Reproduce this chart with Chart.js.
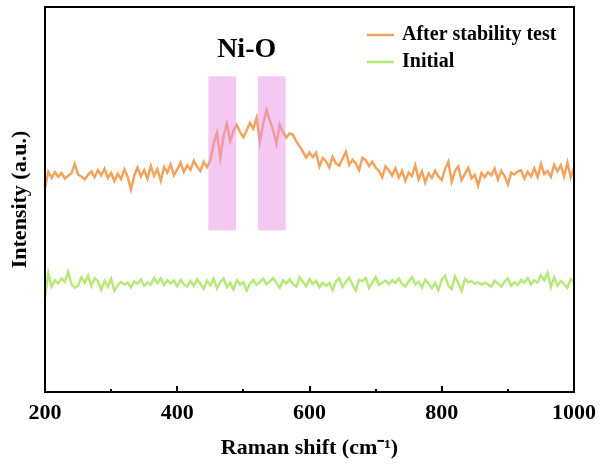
<!DOCTYPE html>
<html>
<head>
<meta charset="utf-8">
<script src="https://cdn.jsdelivr.net/npm/chart.js@4/dist/chart.umd.min.js"></script>
<style>
  html, body { margin: 0; padding: 0; background: #fff; }
  #wrap { width: 602px; height: 468px; }
</style>
</head>
<body>
<div id="wrap"><canvas id="ramanChart"></canvas></div>
<script>
// sampling grid of the spectra (cm-1), every 5 from 200 to 1000
const shiftStart = 200;
const shiftStep = 5;

const afterTest = [
  53.0, 57.2, 55.6, 57.1, 55.9, 56.9, 55.4, 56.2, 56.8, 59.2,
  56.5, 56.0, 55.2, 56.4, 57.3, 55.8, 57.6, 56.3, 58.0, 55.6,
  56.9, 54.8, 56.7, 55.3, 57.8, 55.9, 52.6, 56.2, 58.3, 56.0,
  57.6, 55.4, 58.7, 56.1, 57.9, 54.9, 58.4, 57.0, 59.1, 56.3,
  57.8, 59.6, 57.2, 58.9, 57.7, 60.1, 58.5, 57.4, 59.8, 58.4,
  60.2, 64.5, 67.3, 60.8, 66.5, 69.6, 65.2, 67.8, 69.4, 67.5,
  66.2, 68.0, 69.9, 68.4, 71.2, 65.0, 69.8, 73.2, 70.5, 68.0,
  64.5, 69.4, 67.5, 66.1, 67.2, 66.8, 65.1, 63.8, 62.4, 60.9,
  62.2, 61.0, 62.1, 58.6, 60.8, 59.9, 58.3, 61.1, 59.4, 58.8,
  60.6, 62.4, 59.0, 60.3, 59.4, 57.6, 60.8, 60.2, 58.7, 59.8,
  58.3, 57.4, 55.8, 58.6, 57.6,
  56.2, 58.1, 55.7, 57.4, 54.9, 57.0, 56.1, 58.9, 55.2, 57.3,
  54.4, 56.8, 55.6, 57.5, 56.0, 55.1, 57.9, 59.8, 54.6, 57.4,
  58.6, 55.0, 56.7, 58.2, 55.5, 56.4, 53.6, 56.9, 55.8, 57.1,
  56.3, 58.0, 55.2, 57.4, 56.1, 53.9, 57.0, 56.5, 57.3, 57.6,
  55.4, 57.2, 56.0, 58.1, 55.8, 59.3, 56.6, 57.4, 55.9, 59.0,
  57.3, 58.9, 56.0, 59.6, 55.8, 58.2
];

const initial = [
  24.5, 30.8, 27.4, 29.0, 28.2, 29.5, 28.6, 31.2, 28.0, 27.1,
  27.6, 29.8, 28.4, 30.2, 27.5, 29.6, 28.8, 26.5, 28.9, 27.3,
  29.4, 26.3, 27.8, 28.6, 27.9, 28.4, 27.2, 28.7, 28.1, 29.2,
  27.6, 28.5, 27.9, 29.6, 28.3, 29.5, 27.8, 29.0, 28.2, 28.9,
  27.5, 29.1, 28.0, 27.4, 28.8, 27.6, 29.3, 28.1, 26.8, 28.9,
  27.7, 29.4, 26.9, 28.6, 29.5, 27.3, 28.4, 26.6, 29.0, 27.9,
  28.5, 26.4, 28.2, 29.1, 27.8, 28.6, 29.4, 28.0, 28.7, 29.6,
  28.3, 27.1, 29.0, 28.2, 29.2, 28.0, 27.4, 29.8, 28.6, 27.5,
  29.3, 28.1, 28.9, 27.2, 28.4, 27.6, 28.3, 26.5, 28.8, 29.5,
  27.3, 28.6, 29.7, 27.9, 26.4, 29.1, 28.8, 29.6, 27.0, 28.5,
  29.9, 27.8, 28.4, 28.9, 28.0, 29.0, 28.3, 29.5, 28.1, 27.4,
  28.7, 29.8, 27.9, 28.6, 27.2, 29.1, 28.2, 27.0, 28.4, 26.5,
  29.2, 30.2, 27.6, 26.8, 30.0, 28.3, 26.2, 29.4, 28.5, 28.8,
  28.1, 28.5, 27.9, 28.4, 28.0, 27.3, 28.9, 28.2, 27.4, 28.7,
  29.5, 27.6, 28.5, 27.8, 29.1, 28.4, 29.6, 27.9, 29.0, 28.4,
  30.3, 29.0, 31.0, 27.3, 29.8, 27.6, 28.8, 28.0, 27.1, 29.3,
  28.6
];

const seriesNames = ['After stability test', 'Initial'];
const seriesColors = ['rgb(242,163,94)', 'rgb(184,232,122)'];

// highlighted Ni-O regions (cm-1) and their vertical extent (a.u.)
const bandRanges = [[447, 489], [522, 564]];
const bandLow = 42;
const bandHigh = 82;

const xTicks = [200, 400, 600, 800, 1000];
const xMinorTicks = [300, 500, 700, 900];

const serif = '"Liberation Serif", "Times New Roman", serif';

function toPoints(values) {
  return values.map((v, i) => ({ x: shiftStart + i * shiftStep, y: v }));
}

const decorations = {
  id: 'decorations',
  afterDatasetsDraw(chart) {
    const ctx = chart.ctx;
    const area = chart.chartArea;
    const xs = chart.scales.x;
    const ys = chart.scales.y;

    // pink bands
    ctx.save();
    ctx.fillStyle = 'rgba(235,145,229,0.5)';
    bandRanges.forEach(b => {
      const x0 = xs.getPixelForValue(b[0]);
      const x1 = xs.getPixelForValue(b[1]);
      const y0 = ys.getPixelForValue(bandHigh);
      const y1 = ys.getPixelForValue(bandLow);
      ctx.fillRect(x0, y0, x1 - x0, y1 - y0);
    });

    // Ni-O label
    ctx.fillStyle = '#000';
    ctx.font = 'bold 28px ' + serif;
    ctx.textAlign = 'center';
    ctx.textBaseline = 'middle';
    ctx.fillText('Ni-O', xs.getPixelForValue(505), ys.getPixelForValue(89));

    // frame
    ctx.strokeStyle = '#000';
    ctx.lineWidth = 2;
    ctx.strokeRect(area.left, area.top, area.right - area.left, area.bottom - area.top);

    // inward ticks on bottom axis
    ctx.beginPath();
    xTicks.forEach(t => {
      const px = Math.round(xs.getPixelForValue(t));
      ctx.moveTo(px, area.bottom);
      ctx.lineTo(px, area.bottom - 6);
    });
    xMinorTicks.forEach(t => {
      const px = Math.round(xs.getPixelForValue(t));
      ctx.moveTo(px, area.bottom);
      ctx.lineTo(px, area.bottom - 3);
    });
    ctx.stroke();

    // legend
    ctx.font = 'bold 20px ' + serif;
    ctx.textAlign = 'left';
    chart.data.datasets.forEach((ds, i) => {
      const y = 35 + i * 27;
      ctx.strokeStyle = ds.borderColor;
      ctx.lineWidth = 2.5;
      ctx.beginPath();
      ctx.moveTo(367, y);
      ctx.lineTo(394, y);
      ctx.stroke();
      ctx.fillStyle = '#000';
      ctx.fillText(ds.label, 402, y);
    });
    ctx.restore();
  }
};

new Chart(document.getElementById('ramanChart'), {
  type: 'line',
  data: {
    datasets: [
      {
        label: seriesNames[0],
        data: toPoints(afterTest),
        borderColor: seriesColors[0],
        borderWidth: 2.5,
        pointRadius: 0,
        tension: 0
      },
      {
        label: seriesNames[1],
        data: toPoints(initial),
        borderColor: seriesColors[1],
        borderWidth: 2.5,
        pointRadius: 0,
        tension: 0
      }
    ]
  },
  options: {
    responsive: true,
    maintainAspectRatio: false,
    animation: false,
    layout: { padding: { top: 7, right: 28, left: 0, bottom: 0 } },
    plugins: {
      legend: { display: false },
      tooltip: { enabled: false }
    },
    scales: {
      x: {
        type: 'linear',
        min: 200,
        max: 1000,
        grid: { display: false },
        border: { display: false },
        ticks: {
          stepSize: 200,
          padding: 0,
          color: '#000',
          font: { family: serif, size: 22, weight: 'bold' },
          maxRotation: 0,
          callback: v => String(v)
        },
        title: {
          display: true,
          text: 'Raman shift (cm\u207B\u00B9)',
          color: '#000',
          font: { family: serif, size: 22, weight: 'bold' },
          padding: { top: 0, bottom: 6 }
        },
        afterFit(scale) { scale.height = 76; }
      },
      y: {
        min: 0,
        max: 100,
        grid: { display: false },
        border: { display: false },
        ticks: { display: false },
        title: {
          display: true,
          text: 'Intensity (a.u.)',
          color: '#000',
          font: { family: serif, size: 22, weight: 'bold' },
          padding: { top: 7, bottom: 0 }
        },
        afterFit(scale) { scale.width = 45; }
      }
    }
  },
  plugins: [decorations]
});
</script>
</body>
</html>
